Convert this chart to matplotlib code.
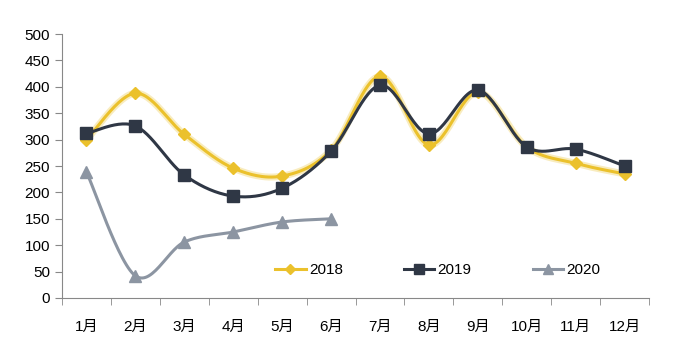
import matplotlib.pyplot as plt
import numpy as np

plt.rcParams['font.family'] = ['Liberation Sans', 'Noto Sans CJK SC']

months = ['1月', '2月', '3月', '4月', '5月', '6月', '7月', '8月', '9月', '10月', '11月', '12月']
y2018 = [300, 388, 310, 246, 231, 280, 420, 290, 390, 286, 255, 235]
y2019 = [312, 326, 233, 193, 208, 278, 403, 311, 394, 286, 282, 250]
y2020 = [239, 42, 106, 125, 144, 150]


def smooth(x, y, n=30):
    # Excel-style smoothed line: cubic Bezier through the points (Catmull-Rom)
    x = np.asarray(x, float)
    y = np.asarray(y, float)
    px = np.concatenate([[x[0]], x, [x[-1]]])
    py = np.concatenate([[y[0]], y, [y[-1]]])
    xs, ys = [], []
    t = np.linspace(0, 1, n)
    for i in range(1, len(px) - 2):
        p0 = np.array([px[i], py[i]])
        p3 = np.array([px[i + 1], py[i + 1]])
        p1 = p0 + (np.array([px[i + 1], py[i + 1]]) - np.array([px[i - 1], py[i - 1]])) / 6
        p2 = p3 - (np.array([px[i + 2], py[i + 2]]) - np.array([px[i], py[i]])) / 6
        b = ((1 - t) ** 3)[:, None] * p0 + (3 * (1 - t) ** 2 * t)[:, None] * p1 \
            + (3 * (1 - t) * t ** 2)[:, None] * p2 + (t ** 3)[:, None] * p3
        xs.extend(b[:, 0])
        ys.extend(b[:, 1])
    return xs, ys


fig = plt.figure(figsize=(6.78, 3.59), dpi=100)
ax = fig.add_axes([0.0914, 0.170, 0.866, 0.735])

series = [
    ('2018', y2018, '#EBC12C', 'D', 6),
    ('2019', y2019, '#2F3745', 's', 8),
    ('2020', y2020, '#8C95A2', '^', 8),
]
for name, vals, color, mk, ms in series:
    x = np.arange(1, len(vals) + 1)
    sx, sy = smooth(x, vals)
    if name == '2018':
        ax.plot(sx, sy, color=color, lw=5, alpha=0.3, solid_capstyle='round')
    ax.plot(sx, sy, color=color, lw=2.2)
    ax.plot(x, vals, linestyle='none', marker=mk, markersize=ms, color=color)
    ax.plot([], [], color=color, lw=2.2, marker=mk, markersize=ms - 1, label=name)

ax.set_xlim(0.5, 12.5)
ax.set_ylim(0, 500)
ax.set_yticks(range(0, 501, 50))
ax.set_xticks(np.arange(1, 13))
ax.set_xticklabels(months)
ax.set_xticks(np.arange(0.5, 13, 1), minor=True)
ax.tick_params(axis='x', which='major', length=0, pad=16, labelsize=11)
ax.tick_params(axis='x', which='minor', length=5, color='#888888')
ax.tick_params(axis='y', length=5, color='#888888', labelsize=11)
for s in ['top', 'right']:
    ax.spines[s].set_visible(False)
for s in ['left', 'bottom']:
    ax.spines[s].set_color('#888888')

ax.legend(loc='center', bbox_to_anchor=(0.64, 0.106), ncol=3, frameon=False,
          fontsize=11, columnspacing=4.0, handlelength=2.0, handletextpad=0.2)

fig.savefig('out.png', dpi=100)
